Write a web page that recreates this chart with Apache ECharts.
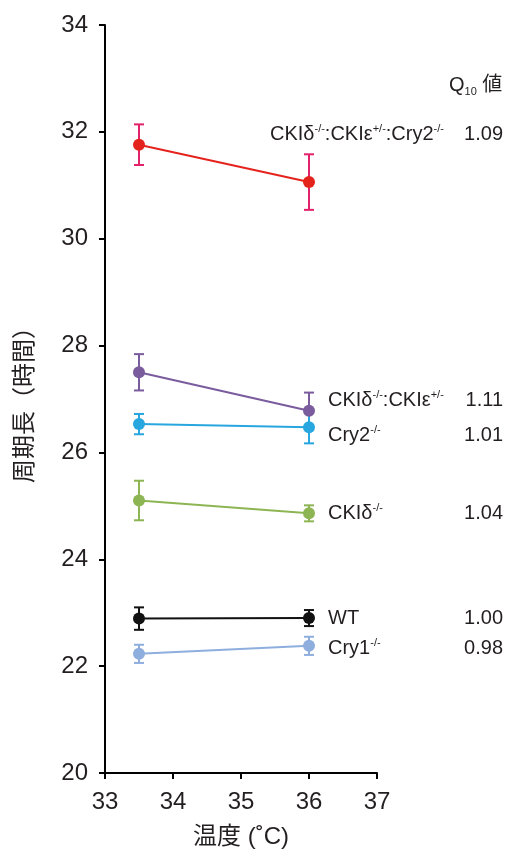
<!DOCTYPE html>
<html><head><meta charset="utf-8">
<script src="https://cdn.jsdelivr.net/npm/echarts@6/dist/echarts.min.js"></script>
<style>html,body{margin:0;padding:0;background:#fff}#c{width:509px;height:851px}</style>
</head><body><div id="c"></div>
<script>
// ---- data ----
const temps = [33.5, 36];
const xTicks = [33, 34, 35, 36, 37];
const yTicks = [20, 22, 24, 26, 28, 30, 32, 34];
const genotypes = ['CKIδ-/-:CKIε+/-:Cry2-/-', 'CKIδ-/-:CKIε+/-', 'Cry2-/-', 'CKIδ-/-', 'WT', 'Cry1-/-'];
const richNames = ['CKIδ{s|-/-}:CKIε{s|+/-}:Cry2{s|-/-}', 'CKIδ{s|-/-}:CKIε{s|+/-}', 'Cry2{s|-/-}', 'CKIδ{s|-/-}', 'WT', 'Cry1{s|-/-}'];
const q10 = ['1.09', '1.11', '1.01', '1.04', '1.00', '0.98'];
const meanTriple = [31.76, 31.06];
const errTriple = [0.38, 0.52];
const meanDE = [27.50, 26.78];
const errDE = [0.34, 0.34];
const meanCry2 = [26.53, 26.47];
const errCry2 = [0.19, 0.30];
const meanD = [25.10, 24.86];
const errD = [0.37, 0.15];
const meanWT = [22.89, 22.90];
const errWT = [0.21, 0.15];
const meanCry1 = [22.23, 22.38];
const errCry1 = [0.17, 0.17];

// ---- styles / layout ----
const lineColors = ['#e5231d', '#7a5c9e', '#27a6df', '#8db553', '#111111', '#8eaede'];
const barColors  = ['#e2226a', '#7a5c9e', '#27a6df', '#8db553', '#111111', '#8eaede'];
const labelX = [270, 328, 328, 328, 328, 328];
const labelY = [134, 400, 435, 513, 618, 648];
const FONT = "'Liberation Sans', Arial, 'Noto Sans CJK JP', sans-serif";
const TXT = '#231f20';

const means = [meanTriple, meanDE, meanCry2, meanD, meanWT, meanCry1];
const errs = [errTriple, errDE, errCry2, errD, errWT, errCry1];

const chart = echarts.init(document.getElementById('c'));
const series = [];
means.forEach((m, i) => {
  const e = errs[i];
  series.push({
    type: 'custom',
    z: 2,
    data: temps.map((t, k) => [t, m[k] - e[k], m[k] + e[k]]),
    renderItem: (params, api) => {
      const lo = api.coord([api.value(0), api.value(1)]);
      const hi = api.coord([api.value(0), api.value(2)]);
      const w = 5;
      const st = { stroke: barColors[i], lineWidth: 2, fill: null };
      return {
        type: 'group',
        children: [
          { type: 'line', shape: { x1: lo[0], y1: lo[1], x2: hi[0], y2: hi[1] }, style: st },
          { type: 'line', shape: { x1: lo[0] - w, y1: lo[1], x2: lo[0] + w, y2: lo[1] }, style: st },
          { type: 'line', shape: { x1: hi[0] - w, y1: hi[1], x2: hi[0] + w, y2: hi[1] }, style: st }
        ]
      };
    }
  });
  series.push({
    type: 'line',
    z: 3,
    data: temps.map((t, k) => [t, m[k]]),
    symbol: 'circle',
    symbolSize: 12,
    lineStyle: { color: lineColors[i], width: 2 },
    itemStyle: { color: lineColors[i] },
    animation: false
  });
});

const graphics = [];
richNames.forEach((n, i) => {
  graphics.push({
    type: 'text', left: labelX[i], top: labelY[i] - 11,
    style: {
      text: n, fontSize: 20, fontFamily: FONT, fill: TXT, lineHeight: 22,
      rich: { s: { fontSize: 11, verticalAlign: 'top', fontFamily: FONT, fill: TXT, lineHeight: 22 } }
    }
  });
  graphics.push({
    type: 'text', right: 6, top: labelY[i] - 11,
    style: { text: q10[i], fontSize: 20, fontFamily: FONT, fill: TXT, lineHeight: 22 }
  });
});
graphics.push({
  type: 'text', left: 449, top: 73,
  style: {
    text: 'Q{sub|10} 値', fontSize: 20, fontFamily: FONT, fill: TXT, lineHeight: 24,
    rich: { sub: { fontSize: 11, verticalAlign: 'bottom', fontFamily: FONT, fill: TXT, lineHeight: 24 } }
  }
});

chart.setOption({
  animation: false,
  backgroundColor: '#fff',
  grid: { left: 105, right: 132, top: 25, bottom: 78, containLabel: false, outerBoundsMode: 'none' },
  xAxis: {
    type: 'value', min: xTicks[0], max: xTicks[xTicks.length - 1], interval: 1,
    name: '温度 (˚C)', nameLocation: 'middle', nameGap: 52,
    nameTextStyle: { fontSize: 24, fontFamily: FONT, color: TXT },
    axisLine: { lineStyle: { color: '#000', width: 2 } },
    axisTick: { length: 6, lineStyle: { color: '#000', width: 2 } },
    axisLabel: { fontSize: 24, fontFamily: FONT, color: TXT, margin: 17 },
    splitLine: { show: false }
  },
  yAxis: {
    type: 'value', min: yTicks[0], max: yTicks[yTicks.length - 1], interval: 2,
    name: '周期長（時間）', nameLocation: 'middle', nameGap: 68, nameRotate: 90,
    nameTextStyle: { fontSize: 24, fontFamily: FONT, color: TXT },
    axisLine: { lineStyle: { color: '#000', width: 2 } },
    axisTick: { length: 6, lineStyle: { color: '#000', width: 2 } },
    axisLabel: { fontSize: 24, fontFamily: FONT, color: TXT, margin: 17 },
    splitLine: { show: false }
  },
  series: series,
  graphic: graphics
});
</script>
</body></html>
